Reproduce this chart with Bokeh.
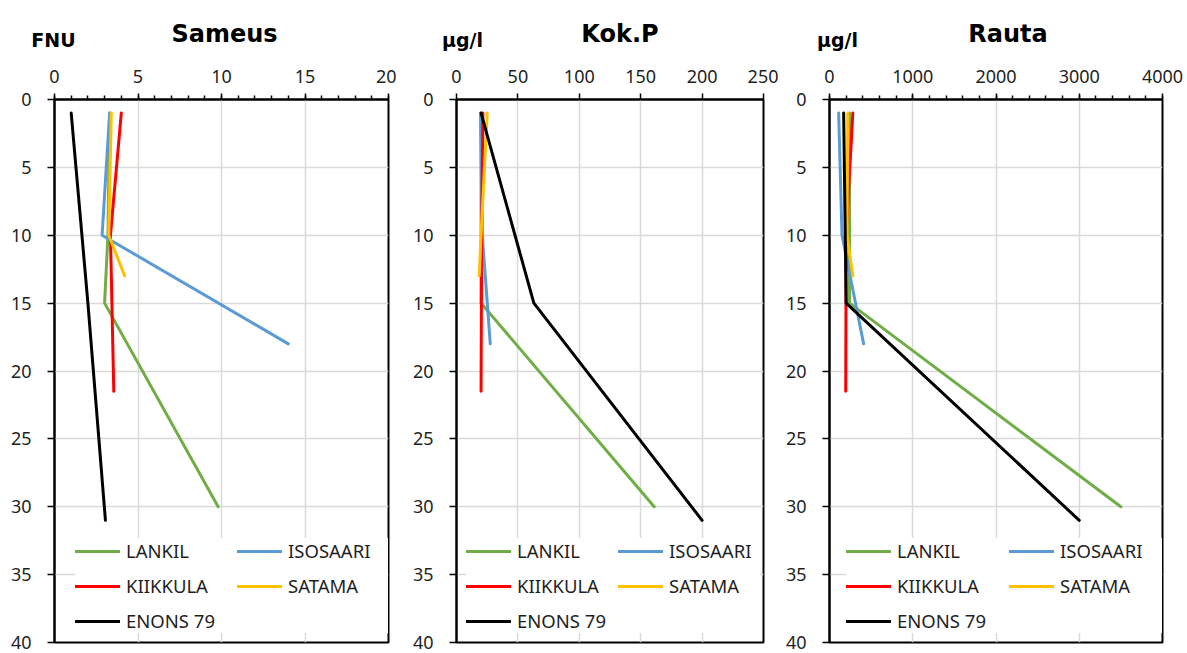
from bokeh.plotting import figure
from bokeh.layouts import row, column
from bokeh.models import Range1d, Legend, LegendItem, SingleIntervalTicker, ColumnDataSource
from bokeh.core.properties import value
from bokeh.embed import file_html
from bokeh.resources import INLINE

# ---- data ----
series_names = ["LANKIL", "ISOSAARI", "KIIKKULA", "SATAMA", "ENONS 79"]
series_colors = ["#70AD47", "#5B9BD5", "#FF0000", "#FFC000", "#000000"]

lankil_depth = [1, 10, 15, 30]
isosaari_depth = [1, 10, 18]
kiikkula_depth = [1, 10, 21.5]
satama_depth = [1, 10, 13]
enons_depth = [1, 15, 31]

# Sameus (FNU)
sameus_lankil = [3.3, 3.2, 3.0, 9.8]
sameus_isosaari = [3.3, 2.85, 14.0]
sameus_kiikkula = [4.0, 3.35, 3.55]
sameus_satama = [3.4, 3.25, 4.2]
sameus_enons = [1.0, 2.0, 3.05]

# Kok.P (ug/l)
kokp_lankil = [20, 20, 20, 161]
kokp_isosaari = [19.5, 21, 27.5]
kokp_kiikkula = [21.5, 20.5, 20]
kokp_satama = [25, 20, 18.5]
kokp_enons = [20, 63, 200]

# Rauta (ug/l)
rauta_lankil = [240, 240, 240, 3500]
rauta_isosaari = [110, 150, 410]
rauta_kiikkula = [280, 200, 195]
rauta_satama = [220, 210, 280]
rauta_enons = [170, 200, 3000]

panel_titles = ["Sameus", "Kok.P", "Rauta"]
panel_units = ["FNU", "µg/l", "µg/l"]
depth_max = 40

depths = [lankil_depth, isosaari_depth, kiikkula_depth, satama_depth, enons_depth]

panels = [
    dict(xmax=20, step=5, minor=5,
         values=[sameus_lankil, sameus_isosaari, sameus_kiikkula, sameus_satama, sameus_enons],
         bl=54, fw=334, br=8, title_dx=3, unit_dx=-1, leg_off=22, leg_pitch=162),
    dict(xmax=250, step=50, minor=0,
         values=[kokp_lankil, kokp_isosaari, kokp_kiikkula, kokp_satama, kokp_enons],
         bl=60, fw=307, br=15, title_dx=10, unit_dx=6, leg_off=11, leg_pitch=152),
    dict(xmax=4000, step=1000, minor=5,
         values=[rauta_lankil, rauta_isosaari, rauta_kiikkula, rauta_satama, rauta_enons],
         bl=51, fw=333, br=25, title_dx=12, unit_dx=8, leg_off=18, leg_pitch=163),
]

TOTAL_W = 1187
HEADER_H = 60
FRAME_H = 543
TOP = 39
BOTTOM = 11
TICK_FONT = "Noto Sans"
TEXT_COLOR = "#1f1f1f"

figs = []
title_x, unit_x = [], []
x0 = 0
for pc in panels:
    p = figure(frame_width=pc["fw"], frame_height=FRAME_H,
               min_border_left=pc["bl"], min_border_right=pc["br"],
               min_border_top=TOP, min_border_bottom=BOTTOM,
               x_range=Range1d(0, pc["xmax"]), y_range=Range1d(depth_max, 0),
               x_axis_location="above", output_backend="svg", toolbar_location=None,
               background_fill_color="white", border_fill_color="white")
    p.outline_line_color = "black"
    p.outline_line_width = 2
    p.outline_line_alpha = 1

    xa = p.xaxis[0]
    xa.ticker = SingleIntervalTicker(interval=pc["step"], num_minor_ticks=pc["minor"])
    xa.axis_line_width = 2
    xa.major_tick_out = 6
    xa.major_tick_in = 0
    xa.major_tick_line_width = 1.5
    xa.minor_tick_out = 4
    xa.minor_tick_in = 0
    xa.minor_tick_line_width = 1.5
    if pc["minor"] == 0:
        xa.minor_tick_line_color = None
    xa.major_label_text_font = TICK_FONT
    xa.major_label_text_font_size = "18px"
    xa.major_label_text_color = TEXT_COLOR
    xa.major_label_standoff = 11

    ya = p.yaxis[0]
    ya.ticker = SingleIntervalTicker(interval=5, num_minor_ticks=0)
    ya.axis_line_width = 2
    ya.major_tick_out = 7
    ya.major_tick_in = 0
    ya.major_tick_line_width = 1.5
    ya.minor_tick_line_color = None
    ya.major_label_text_font = TICK_FONT
    ya.major_label_text_font_size = "18px"
    ya.major_label_text_color = TEXT_COLOR
    ya.major_label_standoff = 16

    p.xgrid.ticker = xa.ticker
    p.ygrid.ticker = ya.ticker
    for g in (p.xgrid[0], p.ygrid[0]):
        g.grid_line_color = "#D9D9D9"
        g.grid_line_width = 1.5

    items = []
    for name, col, d, v in zip(series_names, series_colors, depths, pc["values"]):
        r = p.line(v, d, line_color=col, line_width=3, line_cap="round", line_join="round")
        items.append(LegendItem(label=name, renderers=[r]))

    pad = 10
    spacing = 10
    leg = Legend(items=items, orientation="horizontal", ncols=2,
                 location=(pc["leg_off"] - pad + 9, 9),
                 glyph_width=45, glyph_height=24, label_height=24,
                 label_width=pc["leg_pitch"] - spacing - 45 - 6,
                 label_standoff=6, spacing=spacing, padding=pad, margin=0,
                 label_text_font=TICK_FONT, label_text_font_size="18.5px",
                 label_text_color=TEXT_COLOR,
                 background_fill_color="white", background_fill_alpha=1,
                 border_line_color=None)
    p.add_layout(leg, "center")
    figs.append(p)

    frame_left = x0 + pc["bl"]
    title_x.append(frame_left + pc["fw"] / 2 + pc["title_dx"])
    unit_x.append(frame_left + pc["unit_dx"])
    x0 += pc["bl"] + pc["fw"] + pc["br"]

# header with panel titles and unit labels
header = figure(width=TOTAL_W, height=HEADER_H, min_border=0,
                x_range=Range1d(0, TOTAL_W), y_range=Range1d(HEADER_H, 0),
                x_axis_type=None, y_axis_type=None, output_backend="svg",
                toolbar_location=None, outline_line_color=None,
                background_fill_color="white", border_fill_color="white")
header.grid.visible = False
tsrc = ColumnDataSource(dict(x=title_x, y=[33] * 3, t=panel_titles))
usrc = ColumnDataSource(dict(x=unit_x, y=[39] * 3, t=panel_units))
header.text(x="x", y="y", text="t", source=tsrc, text_font=value("DejaVu Sans"),
            text_font_style="bold", text_font_size="24px", text_align="center",
            text_baseline="alphabetic", text_color="black")
header.text(x="x", y="y", text="t", source=usrc, text_font=value("DejaVu Sans"),
            text_font_style="bold", text_font_size="19px", text_align="center",
            text_baseline="alphabetic", text_color="black")

layout = column(header, row(*figs, spacing=0), spacing=0)
open("out.html", "w").write(file_html(layout, INLINE))
